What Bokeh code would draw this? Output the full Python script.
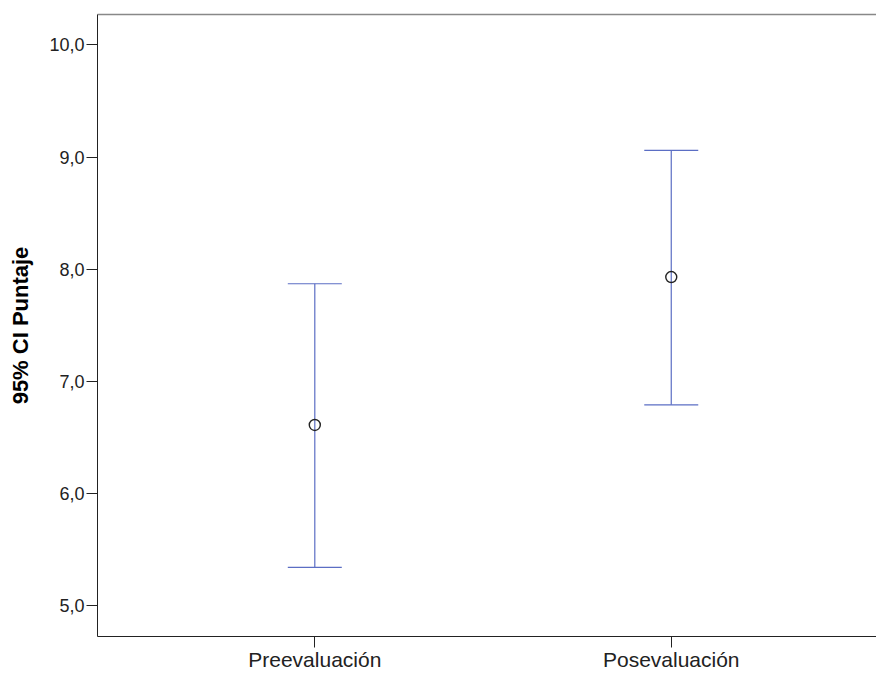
from bokeh.plotting import figure
from bokeh.models import ColumnDataSource, Whisker, TeeHead, FixedTicker, Range1d, LinearAxis
from bokeh.embed import file_html
from bokeh.resources import INLINE

categories = ["Preevaluación", "Posevaluación"]
means = [6.61, 7.93]
upper_ci = [7.87, 9.06]
lower_ci = [5.34, 6.79]
y_ticks = [5, 6, 7, 8, 9, 10]
y_tick_labels = ["5,0", "6,0", "7,0", "8,0", "9,0", "10,0"]

xpos = [i + 1 for i in range(len(categories))]
src = ColumnDataSource(dict(x=xpos, mean=means, upper=upper_ci, lower=lower_ci))

FONT = "Liberation Sans"
BLUE = "#5b6ec4"

p = figure(width=876, height=673, output_backend="svg", toolbar_location=None,
           x_range=Range1d(0.3904, 2.5758), y_range=Range1d(4.723, 10.272),
           min_border_left=97, min_border_right=0, min_border_top=14, min_border_bottom=36)
p.background_fill_color = "white"
p.border_fill_color = "white"
p.outline_line_color = None
p.grid.visible = False

wh = Whisker(source=src, base="x", upper="upper", lower="lower", dimension="height",
             line_color=BLUE, line_width=1.2,
             upper_head=TeeHead(size=54, line_color=BLUE, line_width=1.2),
             lower_head=TeeHead(size=54, line_color=BLUE, line_width=1.2))
p.add_layout(wh)

p.scatter("x", "mean", source=src, marker="circle", size=11, fill_color=None,
          line_color="#222222", line_width=1.4)

# y axis
ya = p.yaxis[0]
ya.ticker = FixedTicker(ticks=y_ticks)
ya.major_label_overrides = {t: l for t, l in zip(y_ticks, y_tick_labels)}
ya.minor_tick_line_color = None
ya.major_tick_out = 11
ya.major_tick_in = 0
ya.major_tick_line_color = "#222222"
ya.axis_line_color = "#222222"
ya.major_label_text_font = FONT
ya.major_label_text_font_size = "18px"
ya.major_label_text_color = "#222222"
ya.major_label_standoff = 2
ya.axis_label = "95% CI Puntaje"
ya.axis_label_text_font = FONT
ya.axis_label_text_font_size = "22px"
ya.axis_label_text_font_style = "bold"
ya.axis_label_text_color = "#000000"
ya.axis_label_standoff = 13

# x axis
xa = p.xaxis[0]
xa.ticker = FixedTicker(ticks=xpos)
xa.major_label_overrides = {x: c for x, c in zip(xpos, categories)}
xa.minor_tick_line_color = None
xa.major_tick_out = 11
xa.major_tick_in = 0
xa.major_tick_line_color = "#222222"
xa.axis_line_color = "#222222"
xa.major_label_text_font = FONT
xa.major_label_text_font_size = "21px"
xa.major_label_text_color = "#222222"
xa.major_label_standoff = 0

# top border line
top = LinearAxis(ticker=FixedTicker(ticks=[]), axis_line_color="#888888", axis_line_width=1.5,
                 major_tick_line_color=None, minor_tick_line_color=None,
                 major_label_text_font_size="0px")
p.add_layout(top, "above")

open("out.html", "w").write(file_html(p, INLINE))
